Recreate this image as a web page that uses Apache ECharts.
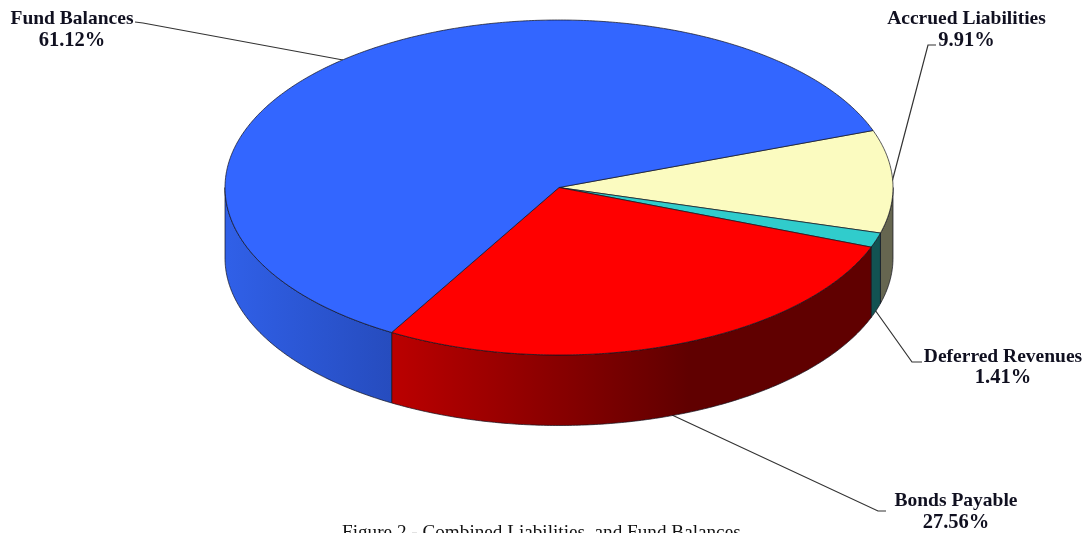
<!DOCTYPE html>
<html>
<head>
<meta charset="utf-8">
<style>html,body{margin:0;padding:0;background:#fff;overflow:hidden}#c{width:1091px;height:533px}</style>
<script src="https://cdn.jsdelivr.net/npm/echarts@6/dist/echarts.min.js"></script>
</head>
<body>
<div id="c"></div>
<script>
// Data, clockwise from the yellow slice
const categories = ['Accrued Liabilities', 'Deferred Revenues', 'Bonds Payable', 'Fund Balances'];
const percents = [9.91, 1.41, 27.56, 61.12];
const caption = 'Figure 2 - Combined Liabilities, and Fund Balances';

// Styles and layout (separate from data)
const topColors = ['#fbfbc0', '#30cccc', '#ff0000', '#3366ff'];
const sideStops = [
  [[0, '#666650'], [1, '#666650']],
  [[0, '#125252'], [1, '#125252']],
  [[0, '#bb0000'], [0.62, '#600000'], [1, '#600000']],
  [[0, '#3060e8'], [1, '#264cbe']]
];
const FONT = 'bold 19.5px "Liberation Serif", serif';
const PCT_FONT = 'bold 20.5px "Liberation Serif", serif';
const CX = 559, CY = 187.5, RX = 334, RY = 167.5, DEPTH = 70.5, START_DEG = -19.9;
const labelCenters = [[966.5, 19, 41], [1003, 357, 378], [956, 501, 523], [72, 19, 41]];
const leaders = [
  [[936, 45], [928, 45], [892, 182]],
  [[922, 362], [912, 362], [875, 310]],
  [[886, 511], [878, 511], [672, 415]],
  [[135, 22], [143, 23], [343, 60]]
];

function sliceAngles(i) {
  const before = percents.slice(0, i).reduce((a, b) => a + b, 0);
  return [START_DEG + before * 3.6, START_DEG + (before + percents[i]) * 3.6];
}
function rimPoint(deg, dy) {
  const t = deg * Math.PI / 180;
  return [CX + RX * Math.cos(t), CY + RY * Math.sin(t) + dy];
}
function arcPoints(a, b, dy) {
  const n = Math.max(2, Math.ceil(Math.abs(b - a) * 2)), pts = [];
  for (let k = 0; k <= n; k++) pts.push(rimPoint(a + (b - a) * k / n, dy));
  return pts;
}
const data = percents.map((v, i) => ({ name: categories[i], value: v }));

function renderSide(params) {
  const i = params.dataIndex;
  let [a, b] = sliceAngles(i);
  a = Math.max(a, 0); b = Math.min(b, 180);
  if (b <= a) return { type: 'group', children: [] };
  const top = arcPoints(a, b, 0), bottom = arcPoints(a, b, DEPTH).reverse();
  const xs = top.map(p => p[0]);
  return {
    type: 'polygon',
    shape: { points: top.concat(bottom) },
    style: {
      fill: {
        type: 'linear', x: Math.min(...xs), y: 0, x2: Math.max(...xs), y2: 0, global: true,
        colorStops: sideStops[i].map(s => ({ offset: s[0], color: s[1] }))
      },
      stroke: 'rgba(20,20,30,0.8)', lineWidth: 0.9
    }
  };
}
function renderTop(params) {
  const i = params.dataIndex;
  const [a, b] = sliceAngles(i);
  return {
    type: 'polygon',
    shape: { points: [[CX, CY]].concat(arcPoints(a, b, 0)) },
    style: { fill: topColors[i], stroke: 'rgba(20,20,30,0.8)', lineWidth: 0.9 }
  };
}
function renderLabel(params, api) {
  const i = params.dataIndex;
  const [x, y1, y2] = labelCenters[i];
  const common = { x, align: 'center', verticalAlign: 'middle', fill: '#101020' };
  return {
    type: 'group',
    children: [
      { type: 'polyline', shape: { points: leaders[i] }, style: { fill: null, stroke: '#333', lineWidth: 1.2 } },
      { type: 'text', style: Object.assign({ text: categories[i], y: y1, font: FONT }, common) },
      { type: 'text', style: Object.assign({ text: api.value(0).toFixed(2) + '%', y: y2, font: PCT_FONT }, common) }
    ]
  };
}

const chart = echarts.init(document.getElementById('c'), null, { renderer: 'canvas' });
chart.setOption({
  animation: false,
  backgroundColor: '#ffffff',
  series: [
    { type: 'custom', coordinateSystem: 'none', z: 1, data, renderItem: renderLabel, silent: true },
    { type: 'custom', coordinateSystem: 'none', z: 2, data, renderItem: renderSide, silent: true },
    { type: 'custom', coordinateSystem: 'none', z: 3, data, renderItem: renderTop, silent: true }
  ],
  graphic: [{
    type: 'text', left: 342, top: 523, silent: true,
    style: { text: caption, font: '19.2px "Liberation Serif", serif', fill: '#111' }
  }]
});
</script>
</body>
</html>
